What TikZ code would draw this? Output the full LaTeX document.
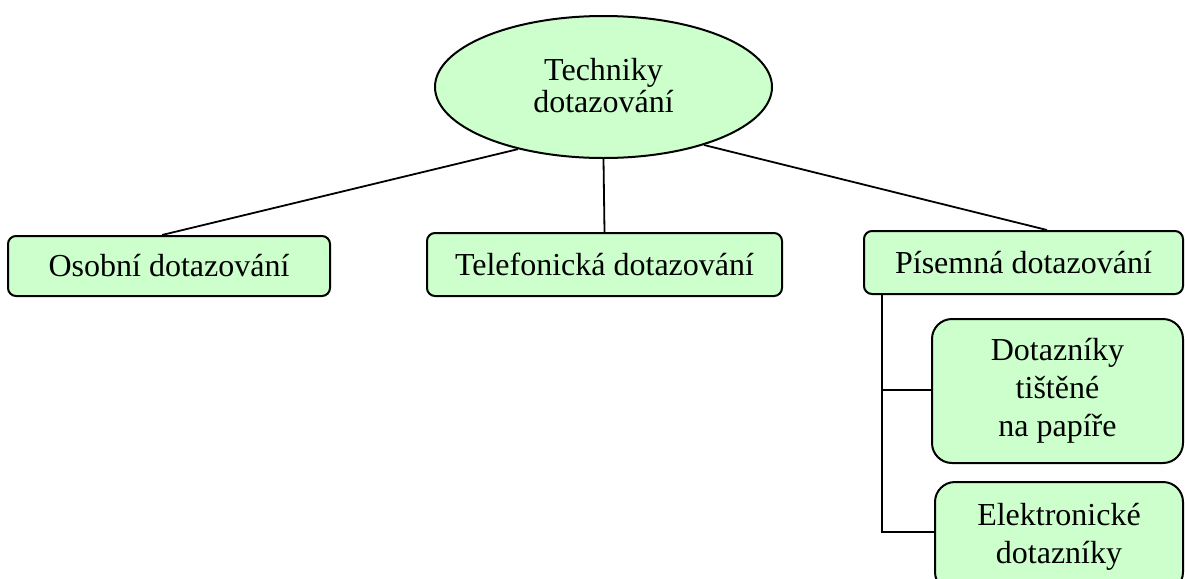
\documentclass[tikz,border=0pt]{standalone}
\usepackage{fontspec}
\setmainfont{Liberation Serif}
\usetikzlibrary{shapes.geometric,calc}
\definecolor{mint}{HTML}{CCFFCC}
\begin{document}
\begin{tikzpicture}[x=0.5pt,y=-0.5pt,
  txt/.style={font=\fontsize{16pt}{16pt}\selectfont},
  box/.style={draw,fill=mint,line width=1pt,rounded corners=4pt,inner sep=0pt,align=center,txt},
  bigbox/.style={box,rounded corners=10pt,font=\fontsize{16pt}{19pt}\selectfont},
  link/.style={line width=0.9pt}]
\clip (0,0) rectangle (1185,579);
% root of the tree
\node[ellipse,draw,fill=mint,line width=1pt,minimum width=168.5pt,minimum height=71pt,
      inner sep=0pt,align=center,txt] (root) at (603.5,87) {\raisebox{2pt}{Techniky}\\\raisebox{2pt}{dotazování}};
% first level
\node[box,minimum width=161pt,minimum height=30pt] (osobni) at (169,266) {Osobní dotazování};
\node[box,minimum width=177.5pt,minimum height=31.5pt] (telef) at (604.5,264.5) {Telefonická dotazování};
\node[box,minimum width=159.5pt,minimum height=31.5pt] (pisem) at (1023.5,262.5) {Písemná dotazování};
% second level under the written variant
\node[bigbox,minimum width=125.5pt,minimum height=72pt] (tistene) at (1057.5,391) {Dotazníky\\tištěné\\na papíře};
\node[bigbox,minimum width=124pt,minimum height=55pt] (elektro) at (1059,537) {Elektronické\\dotazníky};
% connectors
\draw[link] (root.216) -- ([xshift=-3.5pt]osobni.north);
\draw[link] (root.south) -- (telef.north);
\draw[link] (root.330) -- ([xshift=11.75pt]pisem.north);
\coordinate (fork) at ([xshift=9.5pt]pisem.south west);
\draw[link] (fork) |- ([yshift=0.5pt]tistene.west);
\draw[link] (fork) |- ([yshift=2.5pt]elektro.west);
\end{tikzpicture}
\end{document}
